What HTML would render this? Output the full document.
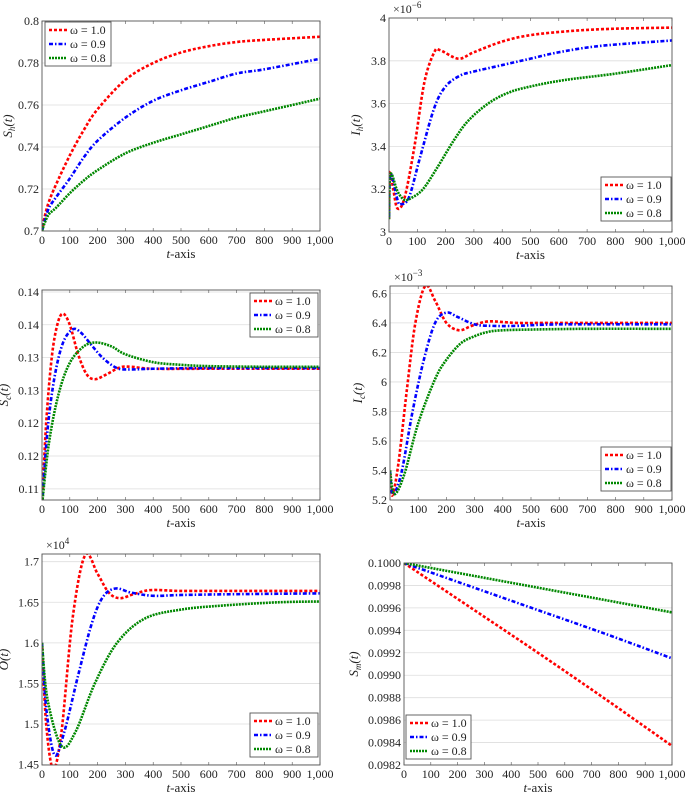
<!DOCTYPE html>
<html><head><meta charset="utf-8">
<style>
body{margin:0;background:#fff;}
svg{display:block;font-family:"Liberation Serif",serif;}
.tick{font-size:12px;fill:#222;}
.lab{font-size:13px;font-style:italic;fill:#222;}
</style></head>
<body>
<svg id="chart" width="685" height="793" viewBox="0 0 685 793"></svg>
<script>
// Panel 1: S_h(t)
const p1T   = [0,10,25,50,100,150,200,300,400,500,600,700,800,1000];
const p1Red = [0.700,0.707,0.714,0.722,0.736,0.748,0.758,0.772,0.780,0.785,0.788,0.790,0.791,0.7925];
const p1Blue= [0.700,0.705,0.711,0.716,0.725,0.735,0.743,0.754,0.762,0.767,0.771,0.775,0.777,0.782];
const p1Green=[0.700,0.704,0.708,0.711,0.718,0.724,0.729,0.737,0.742,0.746,0.750,0.754,0.757,0.763];
const p1Ticks=[0.7,0.72,0.74,0.76,0.78,0.8];
const p1TickLabels=["0.7","0.72","0.74","0.76","0.78","0.8"];
// Panel 2: I_h(t) x1e-6
const p2T    =[0,3,15,30,55,90,125,160,180,245,300,400,500,650,800,1000];
const p2Red  =[3.06,3.28,3.20,3.11,3.16,3.40,3.70,3.84,3.85,3.81,3.84,3.89,3.92,3.94,3.95,3.955];
const p2BlueT=[0,5,30,40,70,110,160,200,250,300,400,500,600,750,1000];
const p2Blue =[3.07,3.27,3.15,3.13,3.16,3.35,3.58,3.68,3.73,3.75,3.78,3.81,3.84,3.87,3.895];
const p2GreenT=[0,5,30,55,80,120,170,230,280,350,420,500,620,800,1000];
const p2Green=[3.06,3.27,3.19,3.15,3.16,3.20,3.30,3.43,3.52,3.60,3.65,3.68,3.71,3.74,3.78];
const p2Ticks=[3,3.2,3.4,3.6,3.8,4];
const p2TickLabels=["3","3.2","3.4","3.6","3.8","4"];
// Panel 3: S_c(t)
const p3T    =[0,15,35,55,75,100,130,160,190,230,280,320,400,600,1000];
const p3Red  =[0.1075,0.120,0.130,0.1350,0.1367,0.1350,0.1305,0.1275,0.1267,0.1274,0.1285,0.1286,0.1283,0.1283,0.1283];
const p3BlueT=[0,20,45,75,110,140,180,220,270,320,400,600,1000];
const p3Blue =[0.1075,0.119,0.127,0.1322,0.1343,0.1338,0.1318,0.1299,0.1284,0.1282,0.1283,0.1284,0.1284];
const p3GreenT=[0,25,60,100,150,195,250,300,400,500,600,800,1000];
const p3Green=[0.1075,0.117,0.1245,0.1292,0.1317,0.1323,0.1317,0.1305,0.1293,0.1289,0.1287,0.1286,0.1286];
const p3Ticks=[0.11,0.115,0.12,0.125,0.13,0.135,0.14];
const p3TickLabels=["0.11","0.12","0.12","0.13","0.13","0.14","0.14"];
// Panel 4: I_c(t) x1e-3
const p4T    =[0,8,30,60,90,125,160,200,245,290,350,450,600,1000];
const p4Red  =[5.40,5.23,5.45,5.95,6.40,6.65,6.55,6.40,6.35,6.38,6.41,6.40,6.40,6.40];
const p4BlueT=[0,10,40,80,120,160,200,240,300,360,450,600,1000];
const p4Blue =[5.40,5.24,5.38,5.80,6.15,6.40,6.47,6.44,6.39,6.38,6.38,6.39,6.39];
const p4GreenT=[0,15,50,100,160,200,250,300,350,400,500,700,1000];
const p4Green=[5.40,5.24,5.37,5.72,6.02,6.15,6.26,6.31,6.34,6.35,6.355,6.36,6.36];
const p4Ticks=[5.2,5.4,5.6,5.8,6,6.2,6.4,6.6];
const p4TickLabels=["5.2","5.4","5.6","5.8","6","6.2","6.4","6.6"];
// Panel 5: O(t) x1e4
const p5T    =[0,15,40,70,110,155,200,240,280,330,390,500,700,1000];
const p5Red  =[1.60,1.50,1.445,1.49,1.63,1.708,1.685,1.662,1.655,1.660,1.665,1.664,1.664,1.664];
const p5BlueT=[0,15,45,80,130,180,220,265,320,400,500,700,1000];
const p5Blue =[1.60,1.52,1.462,1.49,1.56,1.625,1.657,1.667,1.662,1.658,1.659,1.660,1.661];
const p5GreenT=[0,20,70,120,190,270,370,500,650,850,1000];
const p5Green=[1.60,1.53,1.473,1.49,1.55,1.60,1.63,1.641,1.646,1.650,1.651];
const p5Ticks=[1.45,1.5,1.55,1.6,1.65,1.7];
const p5TickLabels=["1.45","1.5","1.55","1.6","1.65","1.7"];
// Panel 6: S_m(t)
const p6T    =[0,250,500,750,1000];
const p6Red  =[0.1,0.09960,0.09920,0.09879,0.09837];
const p6Blue =[0.1,0.09979,0.09958,0.09937,0.09915];
const p6Green=[0.1,0.09989,0.09978,0.09967,0.09956];
const p6Ticks=[0.0982,0.0984,0.0986,0.0988,0.0990,0.0992,0.0994,0.0996,0.0998,0.1];
const p6TickLabels=["0.0982","0.0984","0.0986","0.0988","0.0990","0.0992","0.0994","0.0996","0.0998","0.1000"];
const xTicks=[0,100,200,300,400,500,600,700,800,900,1000];
const xTickLabels=["0","100","200","300","400","500","600","700","800","900","1,000"];
const legendLabels=["ω = 1.0","ω = 0.9","ω = 0.8"];

const NS="http://www.w3.org/2000/svg";
const svg=document.getElementById('chart');
function mk(tag,attrs,parent){const e=document.createElementNS(NS,tag);for(const k in attrs)e.setAttribute(k,attrs[k]);(parent||svg).appendChild(e);return e;}
const styles=[{c:'#f00',d:'3 2'},{c:'#00f',d:'4 2 1.5 2'},{c:'#080',d:'2 1'}];

function smooth(pts){
  let d='M'+pts[0][0].toFixed(2)+','+pts[0][1].toFixed(2);
  for(let i=0;i<pts.length-1;i++){
    const p0=pts[Math.max(0,i-1)],p1=pts[i],p2=pts[i+1],p3=pts[Math.min(pts.length-1,i+2)];
    const c1=[p1[0]+(p2[0]-p0[0])/6,p1[1]+(p2[1]-p0[1])/6];
    const c2=[p2[0]-(p3[0]-p1[0])/6,p2[1]-(p3[1]-p1[1])/6];
    d+=' C'+c1[0].toFixed(2)+','+c1[1].toFixed(2)+' '+c2[0].toFixed(2)+','+c2[1].toFixed(2)+' '+p2[0].toFixed(2)+','+p2[1].toFixed(2);
  }
  return d;
}

function panel(o){
  const g=mk('g',{});
  
  
  const X=t=>o.x0+(t/1000)*(o.x1-o.x0);
  const Y=v=>o.yb-(v-o.ymin)/(o.ymax-o.ymin)*(o.yb-o.yt);
  o.ticks.forEach((v,i)=>{
    const y=Y(v);
    const gl=mk('line',{x1:o.x0,x2:o.x1,y1:y,y2:y,stroke:'#ddd','stroke-width':0.8},g);
    
    
    const tl=mk('text',{x:o.x0-3,y:y+4,'text-anchor':'end',class:'tick'},g);
    tl.textContent=o.labels[i];
    
    
  });
  xTicks.forEach((t,i)=>{
    const x=X(t);
    mk('line',{x1:x,x2:x,y1:o.yb,y2:o.yb-3,stroke:'#555','stroke-width':0.6},g);
    mk('line',{x1:x,x2:x,y1:o.yt,y2:o.yt+3,stroke:'#555','stroke-width':0.6},g);
    const tl=mk('text',{x:x,y:o.yb+13,'text-anchor':'middle',class:'tick'},g);
    tl.textContent=xTickLabels[i];
    
    
  });
  const clipId='clip'+o.name;
  const cp=mk('clipPath',{id:clipId},g);
  mk('rect',{x:o.x0,y:o.yt,width:o.x1-o.x0,height:o.yb-o.yt},cp);
  o.series.forEach((s,i)=>{
    const pts=s.t.map((t,j)=>[X(t),Y(s.v[j])]);
    const p=mk('path',{d:smooth(pts),fill:'none',stroke:styles[i].c,'stroke-width':2.6,'stroke-dasharray':styles[i].d,'clip-path':'url(#'+clipId+')'},g);
    
    
  });
  const fr=mk('rect',{x:o.x0,y:o.yt,width:o.x1-o.x0,height:o.yb-o.yt,fill:'none',stroke:'#555','stroke-width':0.9},g);
  
  
  const xl=mk('text',{x:(o.x0+o.x1)/2,y:o.yb+27,'text-anchor':'middle',class:'lab'},g);
  xl.innerHTML='t<tspan font-style="normal">-axis</tspan>';
  
  
  const yx=o.ylx, yy=(o.yt+o.yb)/2;
  const yl=mk('text',{x:yx,y:yy,'text-anchor':'middle',class:'lab',transform:'rotate(-90 '+yx+' '+yy+')'},g);
  yl.innerHTML=o.ytitle;
  
  
  if(o.exp){
    const ex=mk('text',{x:o.x0+4,y:o.yt-5,class:'tick'},g);
    ex.innerHTML='×10<tspan dy="-5" font-size="9">'+o.exp+'</tspan>';
    
    
  }
  const L=o.leg;
  const lg=mk('g',{},g);
  
  
  mk('rect',{x:L[0],y:L[1],width:L[2],height:44,fill:'#fff',stroke:'#555','stroke-width':0.9},lg);
  legendLabels.forEach((lab,i)=>{
    const yy2=L[1]+8+i*14;
    const e=mk('g',{},lg);
    
    
    mk('line',{x1:L[0]+4,x2:L[0]+22,y1:yy2,y2:yy2,stroke:styles[i].c,'stroke-width':2.6,'stroke-dasharray':styles[i].d},e);
    const t=mk('text',{x:L[0]+25,y:yy2+4,class:'tick'},e);
    t.textContent=lab;
  });
}

panel({name:'panel-sh',x0:42,x1:320,yt:21,yb:231,ymin:0.7,ymax:0.8,ticks:p1Ticks,labels:p1TickLabels,
  series:[{t:p1T,v:p1Red},{t:p1T,v:p1Blue},{t:p1T,v:p1Green}],ytitle:'S<tspan font-size="9" dy="3">h</tspan><tspan dy="-3">(t)</tspan>',ylx:12,leg:[45,22,66]});
panel({name:'panel-ih',x0:389,x1:672,yt:18,yb:232,ymin:3,ymax:4,ticks:p2Ticks,labels:p2TickLabels,exp:'−6',
  series:[{t:p2T,v:p2Red},{t:p2BlueT,v:p2Blue},{t:p2GreenT,v:p2Green}],ytitle:'I<tspan font-size="9" dy="3">h</tspan><tspan dy="-3">(t)</tspan>',ylx:360,leg:[601,177,70]});
panel({name:'panel-sc',x0:42,x1:320,yt:290,yb:500,ymin:0.1083,ymax:0.1403,ticks:p3Ticks,labels:p3TickLabels,
  series:[{t:p3T,v:p3Red},{t:p3BlueT,v:p3Blue},{t:p3GreenT,v:p3Green}],ytitle:'S<tspan font-size="9" dy="3">c</tspan><tspan dy="-3">(t)</tspan>',ylx:8,leg:[250,293,68]});
panel({name:'panel-ic',x0:390,x1:672,yt:286,yb:500,ymin:5.2,ymax:6.65,ticks:p4Ticks,labels:p4TickLabels,exp:'−3',
  series:[{t:p4T,v:p4Red},{t:p4BlueT,v:p4Blue},{t:p4GreenT,v:p4Green}],ytitle:'I<tspan font-size="9" dy="3">c</tspan><tspan dy="-3">(t)</tspan>',ylx:362,leg:[601,447,70]});
panel({name:'panel-o',x0:42,x1:320,yt:554,yb:765,ymin:1.4495,ymax:1.7095,ticks:p5Ticks,labels:p5TickLabels,exp:'4',
  series:[{t:p5T,v:p5Red},{t:p5BlueT,v:p5Blue},{t:p5GreenT,v:p5Green}],ytitle:'O(t)',ylx:8,leg:[250,713,68]});
panel({name:'panel-sm',x0:404,x1:672,yt:563,yb:765,ymin:0.0982,ymax:0.1,ticks:p6Ticks,labels:p6TickLabels,
  series:[{t:p6T,v:p6Red},{t:p6T,v:p6Blue},{t:p6T,v:p6Green}],ytitle:'S<tspan font-size="9" dy="3">m</tspan><tspan dy="-3">(t)</tspan>',ylx:358,leg:[406,715,65]});
</script>
</body></html>
